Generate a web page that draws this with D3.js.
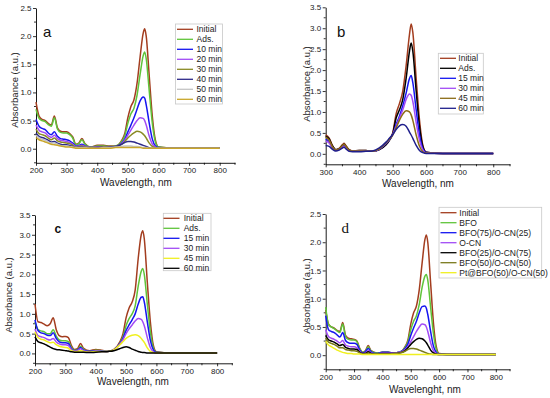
<!DOCTYPE html>
<html>
<head>
<meta charset="utf-8">
<script src="https://cdn.jsdelivr.net/npm/d3@7"></script>
<style>
  body { margin: 0; background: #fff; }
  svg { display: block; font-family: "Liberation Sans", Arial, sans-serif; }
</style>
</head>
<body>
<div id="chart"></div>
<script>
    // wavelength grids (nm)
    const wlA = [200, 210, 220, 230, 240, 250, 260, 270, 280, 290, 300, 310, 320, 330, 340, 350, 360, 380, 400, 420, 440, 460, 480, 490, 500, 510, 520, 530, 540, 550, 555, 560, 570, 580, 590, 600, 650, 800]
    const wlB = [300, 310, 320, 330, 340, 350, 355, 360, 370, 380, 400, 420, 440, 460, 480, 490, 500, 510, 520, 530, 540, 550, 555, 560, 570, 580, 590, 600, 650, 800]

    // panel a
    const namesA = ["Initial", "Ads.", "10 min", "20 min", "30 min", "40 min", "50 min", "60 min"]
    const colorsA = ["#a33d1f", "#5fc43a", "#1515f0", "#a24cf5", "#8a8a24", "#2e2a8a", "#c4c4c4", "#c9a62a"]
    const a_initial = [0.83, 0.58, 0.52, 0.50, 0.45, 0.42, 0.58, 0.37, 0.31, 0.30, 0.30, 0.27, 0.21, 0.08, 0.10, 0.18, 0.09, 0.03, 0.06, 0.06, 0.05, 0.05, 0.15, 0.27, 0.55, 0.75, 0.87, 1.16, 1.63, 2.05, 2.13, 2.00, 1.28, 0.57, 0.15, 0.03, 0.01, 0.01]
    const a_ads = [0.70, 0.54, 0.50, 0.48, 0.43, 0.40, 0.55, 0.35, 0.29, 0.28, 0.28, 0.25, 0.19, 0.07, 0.09, 0.16, 0.08, 0.03, 0.05, 0.05, 0.04, 0.05, 0.13, 0.23, 0.45, 0.62, 0.72, 0.95, 1.32, 1.65, 1.72, 1.60, 1.02, 0.45, 0.12, 0.03, 0.01, 0.01]
    const a_10 = [0.52, 0.40, 0.36, 0.34, 0.28, 0.25, 0.30, 0.22, 0.18, 0.17, 0.16, 0.14, 0.10, 0.05, 0.06, 0.08, 0.05, 0.02, 0.03, 0.03, 0.03, 0.04, 0.10, 0.17, 0.30, 0.42, 0.55, 0.70, 0.85, 0.92, 0.90, 0.78, 0.45, 0.17, 0.05, 0.02, 0.01, 0.01]
    const a_20 = [0.42, 0.33, 0.30, 0.28, 0.23, 0.20, 0.24, 0.18, 0.15, 0.14, 0.13, 0.11, 0.08, 0.04, 0.05, 0.06, 0.04, 0.02, 0.03, 0.03, 0.03, 0.04, 0.09, 0.15, 0.24, 0.33, 0.42, 0.50, 0.55, 0.54, 0.50, 0.42, 0.22, 0.08, 0.03, 0.01, 0.01, 0.01]
    const a_30 = [0.35, 0.27, 0.25, 0.23, 0.19, 0.16, 0.19, 0.14, 0.12, 0.11, 0.10, 0.09, 0.06, 0.03, 0.04, 0.05, 0.03, 0.02, 0.02, 0.03, 0.03, 0.04, 0.08, 0.13, 0.19, 0.24, 0.28, 0.31, 0.30, 0.26, 0.23, 0.19, 0.10, 0.04, 0.02, 0.01, 0.01, 0.01]
    const a_40 = [0.28, 0.22, 0.20, 0.18, 0.15, 0.12, 0.13, 0.10, 0.08, 0.07, 0.07, 0.06, 0.04, 0.02, 0.03, 0.03, 0.02, 0.01, 0.02, 0.02, 0.03, 0.04, 0.08, 0.11, 0.13, 0.13, 0.12, 0.10, 0.08, 0.06, 0.05, 0.04, 0.02, 0.01, 0.01, 0.01, 0.01, 0.01]
    const a_50 = [0.24, 0.19, 0.17, 0.15, 0.12, 0.10, 0.10, 0.08, 0.06, 0.05, 0.05, 0.04, 0.03, 0.02, 0.02, 0.02, 0.02, 0.01, 0.01, 0.02, 0.02, 0.03, 0.04, 0.05, 0.05, 0.05, 0.04, 0.04, 0.03, 0.02, 0.02, 0.02, 0.01, 0.01, 0.01, 0.01, 0.01, 0.01]
    const a_60 = [0.20, 0.16, 0.14, 0.12, 0.10, 0.08, 0.07, 0.06, 0.05, 0.04, 0.03, 0.03, 0.02, 0.01, 0.01, 0.01, 0.01, 0.01, 0.01, 0.01, 0.01, 0.02, 0.02, 0.02, 0.02, 0.02, 0.02, 0.02, 0.02, 0.01, 0.01, 0.01, 0.01, 0.01, 0.01, 0.01, 0.01, 0.01]

    // panel b
    const namesB = ["Initial", "Ads.", "15 min", "30 min", "45 min", "60 min"]
    const colorsB = ["#a33d1f", "#000000", "#1515f0", "#a24cf5", "#8c6c16", "#1f1f8c"]
    const b_initial = [0.45, 0.38, 0.20, 0.10, 0.13, 0.22, 0.25, 0.20, 0.10, 0.07, 0.08, 0.08, 0.06, 0.10, 0.22, 0.33, 0.50, 0.95, 1.20, 1.50, 2.10, 2.85, 3.10, 2.90, 1.80, 0.80, 0.20, 0.04, 0.01, 0.01]
    const b_ads = [0.42, 0.36, 0.19, 0.10, 0.12, 0.20, 0.23, 0.18, 0.09, 0.07, 0.08, 0.08, 0.06, 0.10, 0.22, 0.32, 0.48, 0.85, 1.05, 1.30, 1.80, 2.45, 2.65, 2.45, 1.50, 0.65, 0.17, 0.04, 0.01, 0.01]
    const b_15 = [0.35, 0.30, 0.16, 0.09, 0.11, 0.18, 0.20, 0.16, 0.08, 0.06, 0.07, 0.07, 0.06, 0.11, 0.24, 0.33, 0.46, 0.70, 0.90, 1.15, 1.45, 1.80, 1.87, 1.70, 1.05, 0.45, 0.12, 0.03, 0.01, 0.01]
    const b_30 = [0.30, 0.26, 0.14, 0.08, 0.10, 0.16, 0.18, 0.14, 0.07, 0.06, 0.06, 0.07, 0.06, 0.12, 0.26, 0.35, 0.46, 0.65, 0.85, 1.05, 1.30, 1.43, 1.40, 1.25, 0.75, 0.32, 0.09, 0.02, 0.01, 0.01]
    const b_45 = [0.40, 0.33, 0.17, 0.09, 0.12, 0.20, 0.23, 0.18, 0.09, 0.07, 0.07, 0.07, 0.06, 0.12, 0.26, 0.35, 0.45, 0.62, 0.80, 0.95, 1.03, 1.00, 0.93, 0.80, 0.45, 0.18, 0.05, 0.02, 0.01, 0.01]
    const b_60 = [0.20, 0.18, 0.11, 0.07, 0.09, 0.14, 0.16, 0.12, 0.06, 0.05, 0.05, 0.06, 0.07, 0.14, 0.28, 0.37, 0.46, 0.58, 0.67, 0.70, 0.66, 0.52, 0.45, 0.37, 0.20, 0.08, 0.03, 0.01, 0.01, 0.01]

    // panel c
    const namesC = ["Initial", "Ads.", "15 min", "30 min", "45 min", "60 min"]
    const colorsC = ["#a33d1f", "#5fc43a", "#1515f0", "#a24cf5", "#f0f020", "#000000"]
    const c_initial = [1.25, 0.80, 0.78, 0.74, 0.70, 0.75, 0.90, 0.60, 0.45, 0.42, 0.43, 0.40, 0.20, 0.10, 0.12, 0.25, 0.13, 0.07, 0.10, 0.08, 0.05, 0.10, 0.30, 0.50, 0.90, 1.15, 1.30, 1.60, 2.40, 3.00, 3.10, 2.90, 1.80, 0.80, 0.20, 0.04, 0.01, 0.01]
    const c_ads = [0.80, 0.60, 0.57, 0.55, 0.50, 0.50, 0.60, 0.44, 0.34, 0.32, 0.32, 0.30, 0.15, 0.08, 0.09, 0.18, 0.10, 0.05, 0.08, 0.07, 0.05, 0.09, 0.26, 0.42, 0.70, 0.88, 1.00, 1.20, 1.70, 2.08, 2.15, 2.00, 1.25, 0.55, 0.14, 0.03, 0.01, 0.01]
    const c_15 = [0.85, 0.58, 0.52, 0.50, 0.46, 0.45, 0.52, 0.38, 0.29, 0.27, 0.27, 0.25, 0.12, 0.07, 0.08, 0.15, 0.08, 0.05, 0.07, 0.06, 0.05, 0.09, 0.25, 0.38, 0.58, 0.72, 0.85, 1.00, 1.25, 1.42, 1.43, 1.30, 0.80, 0.33, 0.09, 0.02, 0.01, 0.01]
    const c_30 = [0.62, 0.45, 0.42, 0.40, 0.36, 0.34, 0.38, 0.29, 0.24, 0.22, 0.22, 0.20, 0.10, 0.06, 0.07, 0.12, 0.07, 0.04, 0.06, 0.05, 0.05, 0.09, 0.24, 0.35, 0.50, 0.62, 0.72, 0.82, 0.88, 0.86, 0.80, 0.70, 0.40, 0.15, 0.04, 0.01, 0.01, 0.01]
    const c_45 = [0.55, 0.40, 0.36, 0.34, 0.30, 0.27, 0.28, 0.22, 0.18, 0.16, 0.15, 0.13, 0.07, 0.05, 0.05, 0.07, 0.05, 0.03, 0.05, 0.05, 0.05, 0.09, 0.22, 0.30, 0.38, 0.43, 0.46, 0.47, 0.45, 0.38, 0.33, 0.28, 0.14, 0.05, 0.02, 0.01, 0.01, 0.01]
    const c_60 = [0.42, 0.30, 0.27, 0.24, 0.20, 0.16, 0.12, 0.10, 0.09, 0.08, 0.07, 0.06, 0.04, 0.03, 0.03, 0.03, 0.03, 0.02, 0.03, 0.04, 0.05, 0.07, 0.12, 0.15, 0.17, 0.15, 0.11, 0.08, 0.05, 0.03, 0.02, 0.02, 0.01, 0.01, 0.01, 0.01, 0.01, 0.01]

    // panel d
    const namesD = ["Initial", "BFO", "BFO(75)/O-CN(25)", "O-CN", "BFO(25)/O-CN(75)", "BFO(50)/O-CN(50)", "Pt@BFO(50)/O-CN(50)"]
    const colorsD = ["#a33d1f", "#5fc43a", "#1515f0", "#a24cf5", "#000000", "#7a7a1c", "#f0f020"]
    const d_initial = [0.80, 0.55, 0.50, 0.48, 0.44, 0.42, 0.58, 0.35, 0.30, 0.29, 0.28, 0.25, 0.12, 0.05, 0.08, 0.17, 0.08, 0.04, 0.05, 0.05, 0.04, 0.05, 0.15, 0.27, 0.55, 0.75, 0.87, 1.16, 1.63, 2.05, 2.13, 2.00, 1.28, 0.57, 0.15, 0.03, 0.01, 0.01]
    const d_bfo = [0.85, 0.54, 0.50, 0.47, 0.43, 0.40, 0.55, 0.33, 0.28, 0.27, 0.27, 0.24, 0.11, 0.05, 0.07, 0.15, 0.07, 0.04, 0.05, 0.05, 0.04, 0.05, 0.14, 0.24, 0.45, 0.60, 0.70, 0.90, 1.20, 1.40, 1.43, 1.33, 0.85, 0.38, 0.10, 0.02, 0.01, 0.01]
    const d_7525 = [0.70, 0.45, 0.42, 0.40, 0.36, 0.32, 0.40, 0.26, 0.22, 0.21, 0.21, 0.19, 0.09, 0.04, 0.06, 0.12, 0.06, 0.03, 0.05, 0.05, 0.04, 0.05, 0.12, 0.20, 0.35, 0.48, 0.60, 0.75, 0.86, 0.87, 0.83, 0.72, 0.42, 0.16, 0.05, 0.02, 0.01, 0.01]
    const d_ocn = [0.45, 0.33, 0.30, 0.28, 0.25, 0.22, 0.26, 0.18, 0.16, 0.15, 0.15, 0.13, 0.07, 0.03, 0.04, 0.08, 0.04, 0.02, 0.04, 0.04, 0.04, 0.05, 0.10, 0.15, 0.24, 0.33, 0.42, 0.50, 0.55, 0.54, 0.50, 0.42, 0.22, 0.08, 0.03, 0.01, 0.01, 0.01]
    const d_2575 = [0.35, 0.27, 0.25, 0.23, 0.20, 0.17, 0.19, 0.14, 0.12, 0.11, 0.11, 0.10, 0.05, 0.03, 0.03, 0.06, 0.03, 0.02, 0.03, 0.03, 0.03, 0.04, 0.08, 0.13, 0.19, 0.24, 0.28, 0.30, 0.29, 0.25, 0.22, 0.18, 0.09, 0.04, 0.02, 0.01, 0.01, 0.01]
    const d_5050 = [0.30, 0.23, 0.21, 0.19, 0.16, 0.13, 0.13, 0.10, 0.09, 0.08, 0.08, 0.07, 0.04, 0.02, 0.02, 0.04, 0.02, 0.02, 0.02, 0.02, 0.03, 0.04, 0.07, 0.10, 0.12, 0.12, 0.11, 0.09, 0.07, 0.05, 0.04, 0.03, 0.02, 0.01, 0.01, 0.01, 0.01, 0.01]
    const d_pt = [0.25, 0.18, 0.15, 0.12, 0.09, 0.07, 0.05, 0.04, 0.03, 0.03, 0.02, 0.02, 0.02, 0.01, 0.01, 0.01, 0.01, 0.01, 0.01, 0.01, 0.01, 0.01, 0.01, 0.01, 0.01, 0.01, 0.01, 0.01, 0.01, 0.01, 0.01, 0.01, 0.01, 0.01, 0.01, 0.01, 0.01, 0.01]

    const w = 550;
    const h = 398;
    const sans = "Liberation Sans, Arial, Helvetica, sans-serif"

    const svg = d3.select("#chart")
        .append("svg")
        .attr("width", w)
        .attr("height", h)

    const panels = [
        {
            wl: wlA, series: [a_initial, a_ads, a_10, a_20, a_30, a_40, a_50, a_60], names: namesA, colors: colorsA,
            xDomain: [200, 850], xRange: [36, 235], xTicks: d3.range(200, 801, 100),
            yDomain: [-0.25, 2.5], yRange: [162.8, 8], yTicks: d3.range(0, 2.51, 0.5),
            yLabel: [15, 90], xLabel: [136, 186], xText: "Wavelength, nm",
            letter: { t: "a", x: 43, y: 37, size: 15, font: sans },
            legend: { x: 175.5, y: 24, w: 47, h: 80, lx: 177, tx: 196.5, row0: 29.3 }
        },
        {
            wl: wlB, series: [b_initial, b_ads, b_15, b_30, b_45, b_60], names: namesB, colors: colorsB,
            xDomain: [300, 850], xRange: [325.7, 510], xTicks: d3.range(300, 801, 100),
            yDomain: [-0.25, 3.5], yRange: [164.3, 7.3], yTicks: d3.range(0, 3.51, 0.5),
            yLabel: [306.5, 84], xLabel: [418, 187], xText: "Wavelength, nm",
            letter: { t: "b", x: 337, y: 37, size: 15, font: sans },
            legend: { x: 438.3, y: 53.3, w: 45, h: 60.7, lx: 440, tx: 458.3, row0: 58.3 }
        },
        {
            wl: wlA, series: [c_initial, c_ads, c_15, c_30, c_45, c_60], names: namesC, colors: colorsC,
            xDomain: [200, 850], xRange: [35, 232.3], xTicks: d3.range(200, 801, 100),
            yDomain: [-0.25, 3.5], yRange: [363.3, 215], yTicks: d3.range(0, 3.51, 0.5),
            yLabel: [8.5, 295], xLabel: [133, 385], xText: "Wavelength, nm",
            letter: { t: "c", x: 54.5, y: 232.7, size: 12, font: sans, weight: "bold" },
            legend: { x: 163.3, y: 213.3, w: 47.7, h: 57.4, lx: 163.5, tx: 183.7, row0: 218.3 }
        },
        {
            wl: wlA, series: [d_initial, d_bfo, d_7525, d_ocn, d_2575, d_5050, d_pt], names: namesD, colors: colorsD,
            xDomain: [200, 850], xRange: [325.7, 510], xTicks: d3.range(200, 801, 100),
            yDomain: [-0.25, 2.5], yRange: [369.3, 214], yTicks: d3.range(0, 2.51, 0.5),
            yLabel: [307, 296], xLabel: [425, 393], xText: "Wavelenght, nm",
            letter: { t: "d", x: 341.5, y: 233.3, size: 15, font: "Liberation Serif, Times New Roman, serif" },
            legend: { x: 439, y: 207.3, w: 102.7, h: 70.7, lx: 440.5, tx: 459.3, row0: 212.7 }
        }
    ]

    panels.forEach(drawPanel)

    function drawPanel(p) {
        const xScale = d3.scaleLinear().domain(p.xDomain).range(p.xRange)
        const yScale = d3.scaleLinear().domain(p.yDomain).range(p.yRange)
        const g = svg.append("g")

        // minor ticks
        const xMinor = d3.range(p.xDomain[0] + 50, p.xDomain[1] + 1, 100)
        const yMinor = d3.range(p.yDomain[0], p.yDomain[1] + 0.01, 0.5)

        g.append("g")
            .attr("transform", `translate(0,${yScale(p.yDomain[0])})`)
            .call(d3.axisBottom(xScale).tickValues(p.xTicks).tickSize(3).tickPadding(2).tickFormat(d3.format("d")).tickSizeOuter(0))
        g.append("g")
            .attr("transform", `translate(0,${yScale(p.yDomain[0])})`)
            .selectAll("line").data(xMinor).enter().append("line")
            .attr("x1", d => xScale(d)).attr("x2", d => xScale(d))
            .attr("y1", 0).attr("y2", 2)
            .attr("stroke", "#000").attr("stroke-width", 0.8)

        g.append("g")
            .attr("transform", `translate(${xScale(p.xDomain[0])},0)`)
            .call(d3.axisLeft(yScale).tickValues(p.yTicks).tickSize(3).tickPadding(1.5).tickFormat(d3.format(".1f")).tickSizeOuter(0))
        g.append("g")
            .attr("transform", `translate(${xScale(p.xDomain[0])},0)`)
            .selectAll("line").data(yMinor).enter().append("line")
            .attr("x1", 0).attr("x2", -2)
            .attr("y1", d => yScale(d)).attr("y2", d => yScale(d))
            .attr("stroke", "#000").attr("stroke-width", 0.8)

        g.selectAll(".domain").attr("stroke", "#000").attr("stroke-width", 0.9)
        g.selectAll(".tick line").attr("stroke-width", 0.8)
        g.selectAll(".tick text")
            .attr("font-size", 8)
            .attr("font-family", sans)
            .attr("fill", "#222")

        // spectra
        const line = d3.line()
            .x((d, i) => xScale(p.wl[i]))
            .y(d => yScale(d))
            .curve(d3.curveMonotoneX)

        g.selectAll("path.spec")
            .data(p.series)
            .enter()
            .append("path")
            .attr("class", "spec")
            .attr("d", d => line(d))
            .attr("fill", "none")
            .attr("stroke", (d, i) => p.colors[i])
            .attr("stroke-width", 1.5)

        // axis titles
        g.append("text")
            .attr("transform", `translate(${p.yLabel[0]},${p.yLabel[1]}) rotate(-90)`)
            .attr("text-anchor", "middle")
            .attr("dy", "0.35em")
            .attr("font-size", 9.5)
            .attr("font-family", sans)
            .attr("fill", "#222")
            .text("Absorbance (a.u.)")

        g.append("text")
            .attr("x", p.xLabel[0])
            .attr("y", p.xLabel[1])
            .attr("text-anchor", "middle")
            .attr("font-size", 10)
            .attr("font-family", sans)
            .attr("fill", "#222")
            .text(p.xText)

        g.append("text")
            .attr("x", p.letter.x)
            .attr("y", p.letter.y)
            .attr("font-size", p.letter.size)
            .attr("font-family", p.letter.font)
            .attr("font-weight", p.letter.weight || "normal")
            .attr("fill", "#111")
            .text(p.letter.t)

        // legend
        const lg = p.legend
        g.append("rect")
            .attr("x", lg.x).attr("y", lg.y)
            .attr("width", lg.w).attr("height", lg.h)
            .attr("fill", "#fff")
            .attr("stroke", "#c8c8c8")
            .attr("stroke-width", 0.8)

        const rows = g.selectAll("g.leg")
            .data(p.names)
            .enter()
            .append("g")
            .attr("class", "leg")
            .attr("transform", (d, i) => `translate(0,${lg.row0 + i * 10})`)

        rows.append("line")
            .attr("x1", lg.lx).attr("x2", lg.lx + 16)
            .attr("y1", 0).attr("y2", 0)
            .attr("stroke", (d, i) => p.colors[i])
            .attr("stroke-width", 1.3)

        rows.append("text")
            .attr("x", lg.tx)
            .attr("y", 0)
            .attr("dy", "0.35em")
            .attr("font-size", 8.5)
            .attr("font-family", sans)
            .attr("fill", "#222")
            .text(d => d)
    }
</script>
</body>
</html>
